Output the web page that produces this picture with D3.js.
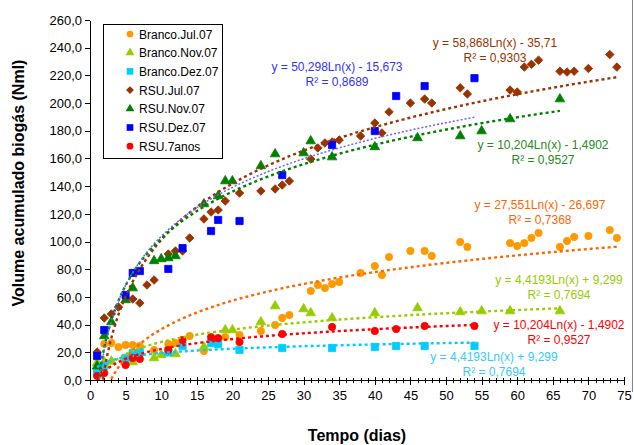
<!DOCTYPE html>
<html>
<head>
<meta charset="utf-8">
<script src="https://cdn.jsdelivr.net/npm/d3@7"></script>
<style>
  body { margin: 0; background: #fff; }
  svg { display: block; font-family: 'Liberation Sans', Arial, sans-serif; }
  .axis text { font-size: 13px; fill: #000; }
  .axis path, .axis line { stroke: #000; shape-rendering: crispEdges; }
  .trend { fill: none; }
  .eq { font-size: 12px; text-anchor: middle; }
  .legend text { font-size: 12px; }
  .title { font-weight: bold; font-size: 16px; text-anchor: middle; }
</style>
</head>
<body>
<div id="chart"></div>
<script>
// valores (dias, volume acumulado em Nml)
const brancoJulDays = [2, 3, 4, 5, 6, 7, 9, 11, 12, 14, 16, 19, 21, 24, 26, 27, 28, 31, 32, 33, 34, 35, 38, 40, 41, 42, 45, 47, 48, 52, 53, 59, 60, 61, 62, 63, 66, 67, 68, 70, 73, 74]
const brancoJul = [26, 26.7, 23.8, 25.3, 25.3, 24.6, 21.7, 26, 26.7, 31.8, 20.9, 31, 32.5, 35.4, 39.7, 44.8, 46.9, 64.3, 68.6, 66.4, 69.3, 70.8, 77.3, 82.3, 75.8, 88.8, 93.2, 93.2, 89.6, 99.7, 96.1, 98.9, 96.8, 98.9, 102.6, 106.2, 96.1, 100.4, 103.3, 104, 108.3, 102.6]

const rsuJulDays = [1, 2, 3, 4, 6, 7, 8, 9, 11, 12, 13, 14, 16, 17, 18, 19, 21, 24, 26, 27, 28, 31, 32, 33, 34, 35, 38, 40, 41, 42, 45, 47, 48, 52, 53, 59, 60, 61, 62, 63, 66, 67, 68, 70, 73, 74]
const rsuJul = [20.2, 44.8, 47.7, 52.7, 58.5, 55.6, 68.6, 72.2, 91, 93.2, 93.2, 102.6, 116.3, 121.3, 122.8, 129.3, 135, 136.5, 138, 140.8, 143.7, 159.6, 167.6, 171.2, 171.9, 173.3, 176.2, 185.6, 178.4, 193.6, 200, 202.9, 200, 211, 206.6, 209.4, 208, 226, 228, 231, 223, 222.4, 223, 225, 235, 226]

const brancoNovDays = [1, 2, 3, 5, 6, 9, 10, 11, 12, 16, 19, 20, 24, 26, 30, 31, 34, 40, 46, 52, 55, 59, 66]
const brancoNov = [12.3, 13, 13.5, 13, 13, 15.9, 18.1, 19.5, 18.8, 23.8, 36.1, 36.1, 41.9, 53.4, 51.3, 48.4, 44.8, 48.4, 52, 49.1, 49.8, 49.8, 49.8]

const rsuNovDays = [1, 2, 3, 5, 6, 9, 10, 11, 12, 16, 18, 19, 20, 24, 26, 30, 31, 34, 40, 46, 52, 55, 59, 66]
const rsuNov = [10, 31.8, 41.9, 57.8, 66.4, 86, 87.4, 88.1, 89.6, 127.1, 132.9, 143.7, 143.7, 154.6, 163.2, 163.9, 172.6, 161, 168.3, 174.8, 176.2, 179.8, 188.5, 202.9]

const dezDays = [1, 2, 5, 6, 7, 11, 13, 17, 18, 21, 27, 34, 40, 43, 47, 54]
const brancoDez = [6, 10, 16, 19.5, 20, 20, 24.6, 26.7, 26, 21.7, 23.1, 23.1, 23.8, 24.6, 24.6, 24.6]
const rsuDez = [17.3, 36.1, 61.4, 77.3, 78.7, 80.2, 95.3, 107.6, 115.6, 114.8, 148, 169.7, 179.8, 205.1, 212.3, 218]
const rsu7anos = [2.9, 5, 10.8, 15.9, 15.2, 21.7, 28.9, 31, 30.3, 27.4, 33.2, 38.3, 35.4, 36.8, 39, 39]

const seriesNames = ['Branco.Jul.07', 'Branco.Nov.07', 'Branco.Dez.07', 'RSU.Jul.07', 'RSU.Nov.07', 'RSU.Dez.07', 'RSU.7anos']
// equacoes tal como aparecem no grafico original
const equations = ['y = 27,551Ln(x) - 26,697', 'y = 4,4193Ln(x) + 9,299', 'y = 4,4193Ln(x) + 9,299', 'y = 58,868Ln(x) - 35,71', 'y = 10,204Ln(x) - 1,4902', 'y = 50,298Ln(x) - 15,673', 'y = 10,204Ln(x) - 1,4902']
const rSquared = ['0,7368', '0,7694', '0,7694', '0,9303', '0,9527', '0,8689', '0,9527']

const xTickValues = d3.range(0, 76, 5)
const yTickValues = d3.range(0, 261, 20)

const width = 634
const height = 445
const margin = { top: 20, right: 10, bottom: 65, left: 90 }
const plotRight = 624

const styles = [
  { shape: 'circle', color: '#FF9900', trend: '#FF6600', label: '#FF6600', cx: 540, cy: 209 },
  { shape: 'triangle', color: '#99CC00', trend: '#99CC00', label: '#99CC00', cx: 559, cy: 284 },
  { shape: 'square', color: '#00CCFF', trend: '#00CCFF', label: '#33CCFF', cx: 494, cy: 361 },
  { shape: 'diamond', color: '#993300', trend: '#993300', label: '#993300', cx: 495, cy: 47 },
  { shape: 'triangle', color: '#008000', trend: '#008000', label: '#228B22', cx: 543, cy: 149 },
  { shape: 'square', color: '#0000FF', trend: '#6666FF', label: '#3333FF', cx: 337, cy: 71 },
  { shape: 'circle', color: '#FF0000', trend: '#FF0000', label: '#FF0000', cx: 559, cy: 329 }
]

const seriesData = [
  [brancoJulDays, brancoJul],
  [brancoNovDays, brancoNov],
  [dezDays, brancoDez],
  [rsuJulDays, rsuJul],
  [rsuNovDays, rsuNov],
  [dezDays, rsuDez],
  [dezDays, rsu7anos]
]

const series = seriesNames.map((name, i) => ({
  name,
  values: seriesData[i][0].map((d, j) => ({ time: d, value: seriesData[i][1][j] })),
  eq: equations[i],
  r2: rSquared[i],
  ...styles[i]
}))

const xScale = d3.scaleLinear().domain([0, 75]).range([margin.left, plotRight])
const yScale = d3.scaleLinear().domain([0, 260]).range([height - margin.bottom, margin.top])

const fmt = (d) => d.toFixed(1).replace('.', ',')

function symbolFor (shape, big) {
  const k = big ? 1 : 0.85
  if (shape === 'circle') return d3.symbol(d3.symbolCircle, 42 * k)()
  if (shape === 'square') return d3.symbol(d3.symbolSquare, 52 * k)()
  if (shape === 'diamond') return d3.symbol(d3.symbolSquare, 36 * k)()
  return d3.symbol(d3.symbolTriangle, 40 * k)()
}

// ajuste logaritmico y = a ln(x) + b, como a linha de tendencia do Excel
function logFit (values) {
  const lx = values.map((d) => Math.log(d.time))
  const ys = values.map((d) => d.value)
  const mx = d3.mean(lx)
  const my = d3.mean(ys)
  let sxy = 0
  let sxx = 0
  lx.forEach((v, i) => {
    sxy += (v - mx) * (ys[i] - my)
    sxx += (v - mx) * (v - mx)
  })
  const a = sxy / sxx
  return { a, b: my - a * mx }
}

const svg = d3.select('#chart')
  .append('svg')
  .attr('width', width)
  .attr('height', height)

svg.append('defs')
  .append('clipPath')
  .attr('id', 'plot-clip')
  .append('rect')
  .attr('x', margin.left)
  .attr('y', margin.top)
  .attr('width', plotRight - margin.left)
  .attr('height', yScale(0) - margin.top)

// borda direita da area do grafico
svg.append('line')
  .attr('x1', 632.5).attr('x2', 632.5)
  .attr('y1', 0).attr('y2', 392)
  .attr('stroke', '#888')

// eixos
const yAxis = d3.axisLeft(yScale)
  .tickValues(yTickValues)
  .tickSize(5)
  .tickSizeOuter(0)
  .tickPadding(3)
  .tickFormat(fmt)

svg.append('g')
  .attr('class', 'axis y')
  .attr('transform', `translate(${margin.left},0)`)
  .call(yAxis)

svg.append('g')
  .attr('class', 'axis x-minor')
  .attr('transform', `translate(0,${yScale(0)})`)
  .call(d3.axisBottom(xScale).tickValues(d3.range(0, 76, 1)).tickSize(3).tickSizeOuter(0).tickFormat(''))
  .call((g) => g.selectAll('.tick line').attr('y1', -2))

svg.append('g')
  .attr('class', 'axis x')
  .attr('transform', `translate(0,${yScale(0)})`)
  .call(d3.axisBottom(xScale).tickValues(xTickValues).tickSize(5).tickSizeOuter(0).tickPadding(6))
  .call((g) => g.selectAll('.tick line').attr('y1', -3))

// pontos
const chart = svg.append('g').attr('class', 'chart-group')

series.forEach((s) => {
  chart.append('g')
    .selectAll('path')
    .data(s.values)
    .enter()
    .append('path')
    .attr('d', symbolFor(s.shape, true))
    .attr('transform', (d) => `translate(${xScale(d.time)},${yScale(d.value)})${s.shape === 'diamond' ? ' rotate(45)' : ''}`)
    .attr('fill', s.color)
    .attr('stroke', s.color)
    .attr('stroke-width', 0.8)
})

// linhas de tendencia
const trendLine = d3.line()
  .x((d) => xScale(d.time))
  .y((d) => yScale(d.value))

const trends = svg.append('g').attr('clip-path', 'url(#plot-clip)')

series.forEach((s) => {
  const fit = logFit(s.values)
  const [x0, x1] = d3.extent(s.values, (d) => d.time)
  const pts = d3.range(0, 201).map((i) => {
    const t = x0 + (x1 - x0) * i / 200
    return { time: t, value: fit.a * Math.log(t) + fit.b }
  })
  trends.append('path')
    .attr('class', 'trend')
    .attr('d', trendLine(pts))
    .attr('stroke', s.trend)
    .attr('stroke-width', s.name === 'RSU.Dez.07' ? 1.5 : 2.4)
    .attr('stroke-dasharray', s.name === 'RSU.Dez.07' ? '2,2' : '3,3')
})

// equacoes
series.forEach((s) => {
  const t = svg.append('text')
    .attr('class', 'eq')
    .attr('fill', s.label)
  t.append('tspan').attr('x', s.cx).attr('y', s.cy).text(s.eq)
  t.append('tspan').attr('x', s.cx).attr('y', s.cy + 15).text(`R² = ${s.r2}`)
})

// legenda
const legend = svg.append('g').attr('class', 'legend')

legend.append('rect')
  .attr('x', 103.5)
  .attr('y', 24.5)
  .attr('width', 119)
  .attr('height', 134)
  .attr('fill', '#fff')
  .attr('stroke', '#000')

const item = legend.selectAll('.serie')
  .data(series)
  .enter()
  .append('g')
  .attr('class', 'serie')
  .attr('transform', (d, i) => `translate(130,${34 + i * 18.7})`)

item.append('path')
  .attr('d', (d) => symbolFor(d.shape, false))
  .attr('transform', (d) => d.shape === 'diamond' ? 'rotate(45)' : null)
  .attr('fill', (d) => d.color)

item.append('text')
  .attr('x', 9)
  .attr('y', 4.5)
  .text((d) => d.name)

// titulos
svg.append('text')
  .attr('class', 'title')
  .attr('x', (margin.left + plotRight) / 2)
  .attr('y', 441)
  .text('Tempo (dias)')

svg.append('text')
  .attr('class', 'title')
  .attr('transform', 'translate(24,183) rotate(-90)')
  .text('Volume acumulado biogás (Nml)')
</script>
</body>
</html>
